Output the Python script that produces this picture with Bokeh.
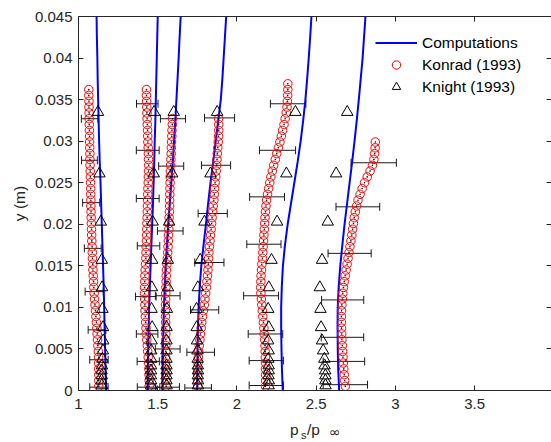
from bokeh.plotting import figure
from bokeh.layouts import column
from bokeh.models import (Range1d, LinearAxis, FixedTicker, CustomJSTickFormatter,
                          ColumnDataSource, Whisker, TeeHead, Legend, LegendItem, Div)
from bokeh.embed import file_html
from bokeh.resources import INLINE

FONT = "Liberation Sans"
AX = "#262626"

# ---------------- data ----------------
x_ticks = [1, 1.5, 2, 2.5, 3, 3.5, 4]
y_ticks = [0, 0.005, 0.01, 0.015, 0.02, 0.025, 0.03, 0.035, 0.04, 0.045]

# Computations (blue lines)
comp_y = [0.0, 0.0025, 0.005, 0.0075, 0.01, 0.0125, 0.015, 0.0175, 0.02, 0.0225,
          0.025, 0.0275, 0.03, 0.0325, 0.035, 0.0375, 0.04, 0.0425, 0.045]
comp_1 = [1.174, 1.171, 1.168, 1.165, 1.162, 1.159, 1.155, 1.151, 1.147, 1.143,
          1.139, 1.134, 1.130, 1.127, 1.124, 1.121, 1.119, 1.116, 1.114]
comp_2 = [1.437, 1.438, 1.440, 1.443, 1.446, 1.450, 1.455, 1.460, 1.465, 1.470,
          1.474, 1.478, 1.481, 1.485, 1.488, 1.491, 1.494, 1.497, 1.500]
comp_3 = [1.531, 1.532, 1.533, 1.536, 1.539, 1.544, 1.550, 1.558, 1.566, 1.576,
          1.586, 1.595, 1.603, 1.611, 1.618, 1.625, 1.632, 1.638, 1.645]
comp_4 = [1.749, 1.750, 1.751, 1.754, 1.758, 1.765, 1.775, 1.789, 1.804, 1.818,
          1.833, 1.850, 1.866, 1.882, 1.898, 1.908, 1.916, 1.924, 1.932]
comp_5 = [2.289, 2.284, 2.281, 2.279, 2.279, 2.283, 2.290, 2.303, 2.320, 2.341,
          2.362, 2.383, 2.402, 2.418, 2.432, 2.443, 2.453, 2.462, 2.470]
comp_6 = [2.645, 2.639, 2.636, 2.635, 2.636, 2.642, 2.652, 2.665, 2.679, 2.695,
          2.711, 2.727, 2.742, 2.756, 2.769, 2.781, 2.793, 2.802, 2.811]
comp_x = [comp_1, comp_2, comp_3, comp_4, comp_5, comp_6]

# Konrad (1993) red circles
konrad_y = [0.0005, 0.0012, 0.0019, 0.0026, 0.0033, 0.0040, 0.0047, 0.0054, 0.0061, 0.0068,
            0.0075, 0.0082, 0.0089, 0.0096, 0.0103, 0.0110, 0.0117, 0.0124, 0.0131, 0.0138,
            0.0145, 0.0152, 0.0159, 0.0166, 0.0173, 0.0180, 0.0187, 0.0194, 0.0201, 0.0208,
            0.0215, 0.0222, 0.0229, 0.0236, 0.0243, 0.0250, 0.0257, 0.0264, 0.0271, 0.0278,
            0.0285, 0.0292, 0.0299, 0.0306, 0.0313, 0.0320, 0.0327, 0.0334, 0.0341, 0.0348,
            0.0355, 0.0362, 0.0369]
konrad_1 = [1.128, 1.128, 1.128, 1.127, 1.127, 1.127, 1.125, 1.122, 1.120, 1.118,
            1.116, 1.113, 1.110, 1.107, 1.104, 1.101, 1.099, 1.097, 1.095, 1.093,
            1.091, 1.090, 1.088, 1.087, 1.086, 1.084, 1.083, 1.082, 1.081, 1.080,
            1.079, 1.078, 1.078, 1.077, 1.077, 1.076, 1.075, 1.074, 1.073, 1.072,
            1.072, 1.071, 1.070, 1.070, 1.069, 1.068, 1.067, 1.067, 1.066, 1.066,
            1.065, 1.065]
konrad_2 = [1.446, 1.446, 1.445, 1.444, 1.442, 1.440, 1.437, 1.434, 1.431, 1.428,
            1.426, 1.424, 1.422, 1.420, 1.419, 1.418, 1.417, 1.417, 1.418, 1.419,
            1.421, 1.423, 1.425, 1.426, 1.427, 1.429, 1.430, 1.431, 1.432, 1.433,
            1.434, 1.435, 1.436, 1.437, 1.438, 1.440, 1.441, 1.442, 1.443, 1.442,
            1.441, 1.440, 1.438, 1.437, 1.436, 1.434, 1.433, 1.432, 1.431, 1.430,
            1.429, 1.429]
konrad_3 = [1.553, 1.552, 1.551, 1.550, 1.550, 1.550, 1.551, 1.551, 1.551, 1.551,
            1.550, 1.550, 1.549, 1.549, 1.549, 1.550, 1.551, 1.552, 1.553, 1.554,
            1.555, 1.558, 1.561, 1.563, 1.565, 1.567, 1.568, 1.570, 1.571, 1.572,
            1.574, 1.575, 1.575, 1.576, 1.577, 1.578, 1.579, 1.580, 1.581, 1.583,
            1.585, 1.586, 1.587, 1.589, 1.590, 1.592, 1.593]
konrad_4 = [1.752, 1.752, 1.752, 1.752, 1.754, 1.756, 1.758, 1.762, 1.766, 1.770,
            1.774, 1.778, 1.783, 1.788, 1.794, 1.798, 1.803, 1.807, 1.810, 1.814,
            1.817, 1.819, 1.821, 1.823, 1.826, 1.830, 1.833, 1.837, 1.840, 1.843,
            1.847, 1.850, 1.854, 1.857, 1.859, 1.862, 1.866, 1.869, 1.872, 1.874,
            1.876, 1.879, 1.882, 1.884, 1.885, 1.885, 1.884]
konrad_5 = [2.180, 2.181, 2.181, 2.180, 2.180, 2.179, 2.178, 2.177, 2.175, 2.172,
            2.170, 2.167, 2.163, 2.160, 2.157, 2.154, 2.151, 2.150, 2.151, 2.152,
            2.155, 2.157, 2.161, 2.163, 2.165, 2.168, 2.170, 2.173, 2.175, 2.177,
            2.180, 2.183, 2.187, 2.193, 2.200, 2.207, 2.214, 2.223, 2.232, 2.242,
            2.251, 2.261, 2.271, 2.280, 2.288, 2.297, 2.304, 2.311, 2.316, 2.318,
            2.320, 2.321, 2.321]
konrad_6 = [2.684, 2.680, 2.677, 2.674, 2.671, 2.669, 2.667, 2.665, 2.662, 2.661,
            2.660, 2.659, 2.659, 2.660, 2.662, 2.665, 2.668, 2.672, 2.677, 2.683,
            2.689, 2.695, 2.701, 2.707, 2.713, 2.719, 2.725, 2.730, 2.735, 2.740,
            2.747, 2.755, 2.764, 2.777, 2.790, 2.805, 2.822, 2.840, 2.855, 2.864,
            2.869, 2.872, 2.873]
konrad_x = [konrad_1, konrad_2, konrad_3, konrad_4, konrad_5, konrad_6]

# Konrad error bars: height, centre, half-width
err_y_1 = [0.0327, 0.0277, 0.0226, 0.0171, 0.0119, 0.0073, 0.0037, 0.0004]
err_c_1 = [1.070, 1.069, 1.080, 1.090, 1.099, 1.117, 1.129, 1.129]
err_h_1 = [0.052, 0.050, 0.054, 0.053, 0.057, 0.056, 0.058, 0.058]
err_y_2 = [0.0345, 0.0289, 0.0231, 0.0174, 0.0113, 0.0068, 0.0035, 0.0004]
err_c_2 = [1.434, 1.437, 1.437, 1.442, 1.425, 1.433, 1.440, 1.442]
err_h_2 = [0.068, 0.072, 0.072, 0.071, 0.065, 0.068, 0.070, 0.071]
err_y_3 = [0.0327, 0.0270, 0.0192, 0.0114, 0.0050, 0.0004]
err_c_3 = [1.596, 1.585, 1.579, 1.563, 1.563, 1.562]
err_h_3 = [0.079, 0.079, 0.081, 0.078, 0.078, 0.075]
err_y_4 = [0.0328, 0.0271, 0.0213, 0.0154, 0.0097, 0.0046, 0.0003]
err_c_4 = [1.890, 1.868, 1.847, 1.826, 1.796, 1.771, 1.755]
err_h_4 = [0.095, 0.092, 0.092, 0.092, 0.089, 0.087, 0.084]
err_y_5 = [0.0345, 0.0289, 0.0233, 0.0176, 0.0114, 0.0068, 0.0036, 0.0006]
err_c_5 = [2.323, 2.256, 2.190, 2.170, 2.152, 2.180, 2.185, 2.185]
err_h_5 = [0.112, 0.114, 0.110, 0.108, 0.110, 0.109, 0.108, 0.108]
err_y_6 = [0.0274, 0.0221, 0.0165, 0.0109, 0.0064, 0.0035, 0.0007]
err_c_6 = [2.863, 2.763, 2.711, 2.667, 2.666, 2.675, 2.684]
err_h_6 = [0.143, 0.138, 0.136, 0.133, 0.134, 0.131, 0.140]
err_sets = [(err_y_1, err_c_1, err_h_1), (err_y_2, err_c_2, err_h_2),
            (err_y_3, err_c_3, err_h_3), (err_y_4, err_c_4, err_h_4),
            (err_y_5, err_c_5, err_h_5), (err_y_6, err_c_6, err_h_6)]

# Knight (1993) black triangles
knight_y = [0.0335, 0.0261, 0.0203, 0.0157, 0.0124, 0.0098, 0.0076, 0.0060,
            0.0048, 0.0038, 0.0030, 0.0024, 0.0018, 0.0012, 0.0006]
knight_1 = [1.123, 1.132, 1.141, 1.147, 1.149, 1.151, 1.155, 1.156,
            1.154, 1.151, 1.148, 1.146, 1.147, 1.145, 1.147]
knight_2 = [1.477, 1.475, 1.468, 1.465, 1.463, 1.461, 1.465, 1.461,
            1.459, 1.459, 1.458, 1.458, 1.457, 1.458, 1.458]
knight_3 = [1.601, 1.591, 1.572, 1.564, 1.565, 1.558, 1.556, 1.555,
            1.555, 1.555, 1.555, 1.556, 1.555, 1.555, 1.556]
knight_4 = [1.875, 1.833, 1.795, 1.768, 1.753, 1.745, 1.746, 1.748,
            1.751, 1.752, 1.753, 1.754, 1.753, 1.754, 1.754]
knight_5 = [2.369, 2.312, 2.253, 2.218, 2.201, 2.197, 2.201, 2.197,
            2.200, 2.198, 2.200, 2.201, 2.199, 2.201, 2.200]
knight_6 = [2.696, 2.626, 2.573, 2.537, 2.523, 2.527, 2.531, 2.537,
            2.544, 2.552, 2.553, 2.557, 2.558, 2.558, 2.559]
knight_x = [knight_1, knight_2, knight_3, knight_4, knight_5, knight_6]

# ---------------- figure ----------------
p = figure(width=551, height=420, x_range=Range1d(1, 3.985), y_range=Range1d(0, 0.045),
           output_backend="svg", toolbar_location=None,
           min_border_left=78, min_border_right=0, min_border_top=16, min_border_bottom=30)
p.xgrid.visible = False
p.ygrid.visible = False
p.outline_line_color = None
p.background_fill_color = "white"
p.border_fill_color = "white"


def style_axis(ax, ticks, labels=True):
    ax.ticker = FixedTicker(ticks=ticks)
    ax.major_tick_in = 5
    ax.major_tick_out = 0
    ax.minor_tick_line_color = None
    ax.axis_line_color = AX
    ax.major_tick_line_color = AX
    ax.major_label_text_font = FONT
    if labels:
        ax.formatter = CustomJSTickFormatter(code="return String(tick);")
        ax.major_label_text_font_size = "15px"
        ax.major_label_text_color = AX
    else:
        ax.formatter = CustomJSTickFormatter(code="return '';")
        ax.major_label_text_font_size = "1px"
        ax.major_label_text_color = None
        ax.major_label_standoff = 0


style_axis(p.xaxis[0], x_ticks)
p.xaxis[0].major_label_standoff = 8
style_axis(p.yaxis[0], y_ticks)
p.yaxis[0].major_label_standoff = 6
p.yaxis[0].axis_label = "y (m)"
p.yaxis[0].axis_label_text_font = FONT
p.yaxis[0].axis_label_text_font_size = "15.5px"
p.yaxis[0].axis_label_text_font_style = "normal"
p.yaxis[0].axis_label_text_color = AX
p.yaxis[0].axis_label_standoff = 4

top_ax = LinearAxis()
style_axis(top_ax, x_ticks, labels=False)
p.add_layout(top_ax, "above")
right_ax = LinearAxis()
style_axis(right_ax, y_ticks, labels=False)
right_ax.axis_line_color = None
p.add_layout(right_ax, "right")

# computations
line_rs = []
for cx in comp_x:
    r = p.line(cx, comp_y, line_color="#0000FF", line_width=2)
    line_rs.append(r)

# Konrad circles (with the small centre dots seen in the original)
circ_rs = []
for kx in konrad_x:
    ky = konrad_y[:len(kx)]
    r = p.scatter(kx, ky, marker="circle", size=8.5, fill_color=None,
                  line_color="#FF0000", line_width=1)
    circ_rs.append(r)
    p.scatter(kx, ky, marker="circle", size=1.6, fill_color="black", line_color=None)

# error bars
for ey, ec, eh in err_sets:
    src = ColumnDataSource(dict(base=ey,
                                lower=[c - h for c, h in zip(ec, eh)],
                                upper=[c + h for c, h in zip(ec, eh)]))
    w = Whisker(source=src, base="base", lower="lower", upper="upper", dimension="width",
                line_color="#1a1a1a", line_width=1,
                lower_head=TeeHead(size=8, line_color="#1a1a1a", line_width=1),
                upper_head=TeeHead(size=8, line_color="#1a1a1a", line_width=1))
    p.add_layout(w)

# Knight triangles
tri_rs = []
for kx in knight_x:
    r = p.scatter(kx, knight_y, marker="triangle", size=11.5, fill_color=None,
                  line_color="black", line_width=1)
    tri_rs.append(r)

legend = Legend(items=[LegendItem(label="Computations", renderers=[line_rs[0]]),
                       LegendItem(label="Konrad (1993)", renderers=[circ_rs[0]]),
                       LegendItem(label="Knight (1993)", renderers=[tri_rs[0]])],
                location=(297, 293))
legend.border_line_color = None
legend.background_fill_alpha = 0
legend.padding = 0
legend.margin = 0
legend.spacing = 1
legend.glyph_width = 42
legend.glyph_height = 21
legend.label_height = 21
legend.label_standoff = 5
legend.label_text_font = FONT
legend.label_text_font_size = "15.5px"
legend.label_text_color = "black"
p.add_layout(legend, "center")

# x axis label  p_s / p_inf  (below the figure)
span = "position:absolute;white-space:nowrap;color:#262626;"
lib = "font-family:'Liberation Sans';"
xlabel_html = (
    '<div style="position:relative;width:551px;height:22px;overflow:visible;">'
    f'<span style="{span}{lib}line-height:1;left:290px;top:2px;font-size:15.5px;">p</span>'
    f'<span style="{span}{lib}line-height:1;left:301px;top:10px;font-size:11px;">s</span>'
    f'<span style="{span}{lib}line-height:1;left:307px;top:2px;font-size:15.5px;">/p</span>'
    f'<span style="{span}font-family:\'DejaVu Sans\';line-height:11px;left:329px;top:7px;'
    f'font-size:14px;">\u221e</span>'
    '</div>'
)
xlabel = Div(text=xlabel_html, width=551, height=22, margin=(0, 0, 0, 0))

layout = column(p, xlabel, spacing=0)
open("out.html", "w").write(file_html(layout, INLINE))
